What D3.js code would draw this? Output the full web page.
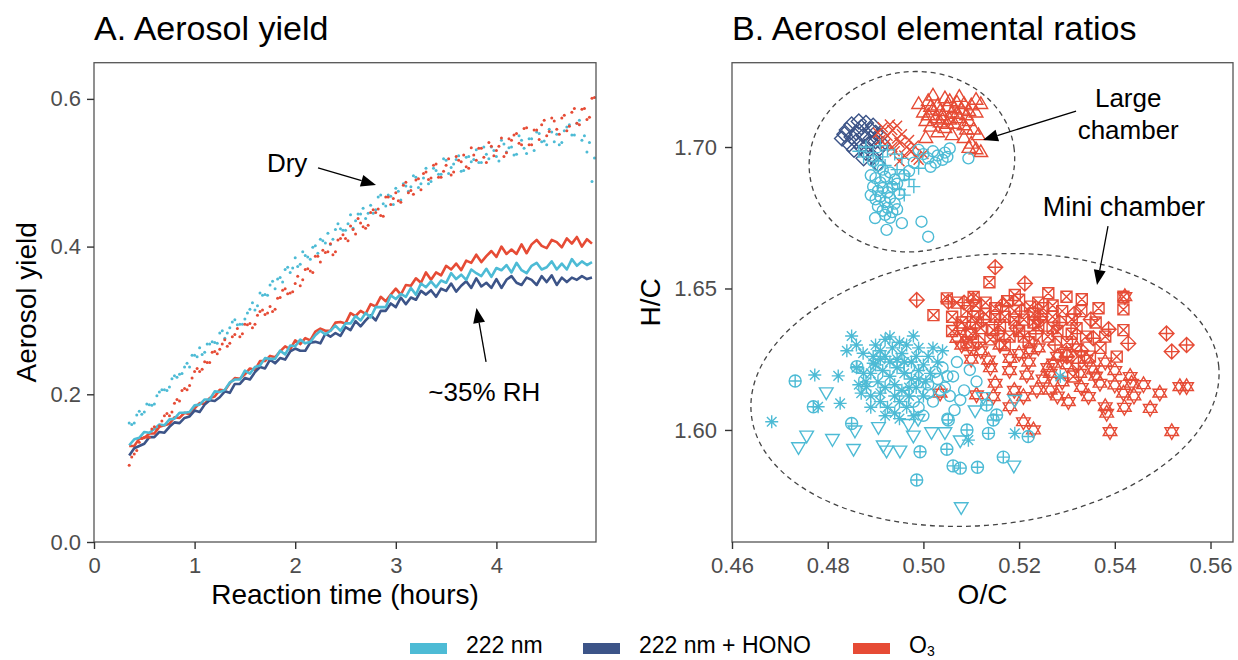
<!DOCTYPE html>
<html>
<head>
<meta charset="utf-8">
<script src="https://cdn.jsdelivr.net/npm/d3@7"></script>
<style>
  body { margin: 0; background: #fff; }
  svg text { font-family: "Liberation Sans", Arial, sans-serif; }
</style>
</head>
<body>
<svg id="chart" width="1238" height="660"></svg>
<script>
// ---- Panel A data: reaction time (hours) and aerosol yield ----
const times = [
  0.35,0.40,0.45,0.50,0.55,0.60,0.65,0.70,0.75,0.80,
  0.85,0.90,0.95,1.00,1.05,1.10,1.15,1.20,1.25,1.30,
  1.35,1.40,1.45,1.50,1.55,1.60,1.65,1.70,1.75,1.80,
  1.85,1.90,1.95,2.00,2.05,2.10,2.15,2.20,2.25,2.30,
  2.35,2.40,2.45,2.50,2.55,2.60,2.65,2.70,2.75,2.80,
  2.85,2.90,2.95,3.00,3.05,3.10,3.15,3.20,3.25,3.30,
  3.35,3.40,3.45,3.50,3.55,3.60,3.65,3.70,3.75,3.80,
  3.85,3.90,3.95,4.00,4.05,4.10,4.15,4.20,4.25,4.30,
  4.35,4.40,4.45,4.50,4.55,4.60,4.65,4.70,4.75,4.80,
  4.85,4.90,4.95
];
const timesMid = [
  0.375,0.425,0.475,0.525,0.575,0.625,0.675,0.725,0.775,0.825,
  0.875,0.925,0.975,1.025,1.075,1.125,1.175,1.225,1.275,1.325,
  1.375,1.425,1.475,1.525,1.575,1.625,1.675,1.725,1.775,1.825,
  1.875,1.925,1.975,2.025,2.075,2.125,2.175,2.225,2.275,2.325,
  2.375,2.425,2.475,2.525,2.575,2.625,2.675,2.725,2.775,2.825,
  2.875,2.925,2.975,3.025,3.075,3.125,3.175,3.225,3.275,3.325,
  3.375,3.425,3.475,3.525,3.575,3.625,3.675,3.725,3.775,3.825,
  3.875,3.925,3.975,4.025,4.075,4.125,4.175,4.225,4.275,4.325,
  4.375,4.425,4.475,4.525,4.575,4.625,4.675,4.725,4.775,4.825,
  4.875,4.925,4.975
];
// dry experiments (dots), sampled on times and timesMid
const dry222 = [
  .161,.161,.177,.176,.186,.187,.203,.206,.210,.225,
  .227,.237,.237,.253,.263,.257,.268,.270,.283,.276,
  .290,.301,.295,.302,.315,.314,.337,.335,.348,.343,
  .358,.369,.365,.385,.376,.388,.383,.401,.410,.405,
  .403,.423,.424,.422,.443,.435,.444,.438,.456,.450,
  .470,.455,.468,.479,.463,.482,.481,.494,.485,.506,
  .488,.503,.498,.517,.507,.518,.502,.521,.515,.531,
  .514,.525,.535,.522,.544,.528,.535,.525,.544,.526,
  .546,.555,.542,.538,.555,.552,.541,.562,.551,.567,
  .544,.528,.488
];
const dry222Mid = [
  .159,.172,.173,.187,.185,.198,.206,.205,.221,.223,
  .228,.242,.253,.251,.254,.268,.271,.269,.286,.283,
  .298,.294,.295,.310,.324,.320,.334,.334,.353,.356,
  .352,.372,.371,.373,.393,.386,.399,.391,.408,.418,
  .410,.431,.422,.431,.425,.444,.452,.445,.445,.467,
  .458,.470,.457,.475,.485,.475,.496,.480,.493,.485,
  .506,.498,.519,.499,.512,.523,.503,.522,.518,.514,
  .535,.519,.530,.516,.539,.534,.524,.550,.533,.546,
  .530,.553,.543,.559,.542,.538,.557,.565,.551,.571,
  .550,.541,.520
];
const dryO3 = [
  .104,.119,.135,.142,.142,.156,.157,.171,.171,.188,
  .191,.208,.212,.231,.231,.244,.243,.258,.261,.274,
  .269,.281,.278,.295,.296,.295,.312,.308,.319,.315,
  .331,.343,.337,.350,.347,.369,.367,.387,.379,.392,
  .404,.393,.411,.411,.428,.417,.432,.425,.446,.446,
  .442,.467,.457,.473,.460,.487,.476,.490,.477,.501,
  .493,.512,.494,.510,.497,.522,.515,.508,.534,.517,
  .533,.514,.536,.530,.547,.527,.544,.553,.538,.561,
  .538,.558,.565,.550,.574,.559,.574,.557,.582,.567,
  .586,.572,.601
];
const dryO3Mid = [
  .115,.124,.140,.142,.153,.152,.164,.174,.176,.193,
  .205,.206,.222,.235,.234,.243,.257,.255,.268,.265,
  .278,.289,.282,.294,.290,.307,.314,.310,.312,.330,
  .341,.336,.339,.360,.355,.370,.365,.387,.395,.393,
  .389,.409,.416,.408,.423,.438,.427,.429,.450,.451,
  .441,.467,.465,.462,.483,.473,.471,.492,.499,.491,
  .510,.494,.502,.519,.501,.517,.524,.506,.524,.533,
  .521,.541,.523,.536,.522,.546,.551,.540,.560,.538,
  .558,.545,.571,.556,.570,.552,.578,.563,.587,.565,
  .587,.575,.602
];
// ~35% RH experiments (lines)
const rh222 = [
  .131,.139,.141,.149,.148,.153,.159,.158,.166,.167,
  .175,.175,.176,.185,.186,.193,.193,.204,.203,.206,
  .216,.220,.220,.232,.228,.237,.239,.249,.248,.248,
  .259,.254,.266,.265,.274,.269,.271,.280,.286,.281,
  .286,.293,.286,.296,.296,.306,.300,.310,.304,.318,
  .318,.318,.334,.329,.336,.332,.344,.335,.350,.345,
  .353,.345,.354,.351,.364,.356,.362,.355,.369,.364,
  .360,.370,.359,.371,.368,.375,.365,.378,.368,.364,
  .374,.378,.369,.372,.380,.369,.377,.369,.383,.374,
  .380,.375,.379
];
const rhHONO = [
  .117,.127,.130,.133,.142,.142,.149,.148,.156,.162,
  .161,.168,.170,.178,.176,.186,.192,.191,.196,.204,
  .202,.214,.214,.222,.220,.230,.237,.235,.247,.242,
  .249,.247,.258,.262,.259,.259,.270,.271,.269,.282,
  .278,.283,.279,.291,.287,.299,.292,.300,.307,.300,
  .313,.313,.323,.318,.331,.322,.331,.328,.340,.335,
  .341,.332,.343,.340,.350,.339,.347,.353,.344,.357,
  .346,.351,.344,.356,.344,.355,.360,.351,.348,.358,
  .355,.348,.360,.352,.361,.348,.358,.352,.358,.355,
  .360,.356,.358
];
const rhO3 = [
  .130,.130,.140,.141,.147,.147,.156,.158,.160,.169,
  .168,.175,.173,.181,.188,.187,.195,.197,.206,.205,
  .215,.222,.221,.227,.235,.233,.245,.245,.252,.250,
  .258,.265,.261,.273,.268,.276,.273,.285,.289,.286,
  .286,.297,.298,.296,.310,.306,.313,.309,.322,.319,
  .332,.326,.335,.343,.335,.348,.347,.357,.351,.365,
  .355,.365,.361,.374,.369,.377,.368,.381,.378,.389,
  .379,.387,.394,.386,.400,.390,.396,.390,.403,.391,
  .403,.409,.401,.398,.409,.406,.399,.411,.404,.413,
  .400,.410,.404
];
const xTicksA = [0, 1, 2, 3, 4];
const yTicksA = [0, 0.2, 0.4, 0.6];

// ---- Panel B data: [O/C, H/C] ----
// large chamber
const largeHONO = [
  [0.4830,1.7030],[0.4840,1.7060],[0.4850,1.7080],[0.4860,1.7050],[0.4870,1.7070],[0.4880,1.7085],
  [0.4890,1.7060],[0.4845,1.7010],[0.4860,1.7020],[0.4875,1.7040],[0.4890,1.7030],[0.4900,1.7050],
  [0.4855,1.6990],[0.4870,1.7000],[0.4885,1.7010],[0.4900,1.7020],[0.4910,1.7040],[0.4880,1.6980],
  [0.4895,1.6965],[0.4905,1.6990],[0.4835,1.7045],[0.4865,1.7090],[0.4895,1.7075],[0.4915,1.7010],
  [0.4875,1.6960],[0.4850,1.7035],[0.4905,1.6940]
];
const largeO3cross = [
  [0.4905,1.7050],[0.4915,1.7070],[0.4925,1.7040],[0.4935,1.7060],[0.4945,1.7030],[0.4955,1.7045],
  [0.4920,1.7010],[0.4935,1.7000],[0.4950,1.7015],[0.4965,1.7000],[0.4975,1.6985],[0.4960,1.6970],
  [0.4985,1.6965],[0.4910,1.7025],[0.4940,1.6985],[0.4970,1.7025],[0.4930,1.7080],[0.4990,1.6955],
  [0.4950,1.6950],[0.5000,1.6975],[0.4945,1.7075],[0.4980,1.7005]
];
const largeO3tri = [
  [0.4990,1.7150],[0.5000,1.7120],[0.5010,1.7160],[0.5020,1.7130],[0.5030,1.7145],[0.5040,1.7110],
  [0.5050,1.7140],[0.5060,1.7120],[0.5070,1.7155],[0.5080,1.7130],[0.5090,1.7110],[0.5100,1.7145],
  [0.5110,1.7165],[0.5005,1.7090],[0.5015,1.7070],[0.5025,1.7100],[0.5035,1.7085],[0.5045,1.7065],
  [0.5055,1.7095],[0.5065,1.7080],[0.5075,1.7100],[0.5085,1.7075],[0.5095,1.7090],[0.5105,1.7060],
  [0.5045,1.7170],[0.5075,1.7175],[0.5060,1.7040],[0.5085,1.7030],[0.5100,1.7010],[0.5110,1.6990],
  [0.5120,1.6980],[0.5095,1.6995],[0.5030,1.7050],[0.5020,1.7180],[0.5115,1.7040],[0.5005,1.7030],
  [0.5120,1.7150],[0.5015,1.7140],[0.5035,1.7125],[0.5055,1.7160],[0.5065,1.7135],[0.5085,1.7150],
  [0.5095,1.7125],[0.5040,1.7095],[0.5070,1.7115],[0.5090,1.7060],[0.5050,1.7080],[0.5110,1.7120],
  [0.5010,1.7110]
];
const large222circle = [
  [0.4895,1.6950],[0.4905,1.6935],[0.4915,1.6920],[0.4890,1.6900],[0.4900,1.6890],[0.4910,1.6875],
  [0.4920,1.6895],[0.4930,1.6910],[0.4940,1.6885],[0.4895,1.6860],[0.4905,1.6845],[0.4915,1.6855],
  [0.4925,1.6840],[0.4935,1.6860],[0.4945,1.6870],[0.4890,1.6830],[0.4900,1.6815],[0.4910,1.6825],
  [0.4920,1.6805],[0.4930,1.6820],[0.4940,1.6800],[0.4950,1.6835],[0.4905,1.6790],[0.4915,1.6775],
  [0.4925,1.6785],[0.4935,1.6770],[0.4945,1.6780],[0.4920,1.6760],[0.4930,1.6750],[0.4899,1.6749],
  [0.4923,1.6707],[0.4955,1.6731],[0.4996,1.6736],[0.5010,1.6683],[0.4990,1.6990],[0.5000,1.6975],
  [0.5010,1.6960],[0.5020,1.6985],[0.5030,1.6970],[0.5040,1.6955],[0.5045,1.6980],[0.5055,1.6995],
  [0.5025,1.6945],[0.5015,1.6930],[0.5050,1.6965],[0.5094,1.6960],[0.4960,1.6900],[0.4970,1.6915],
  [0.4980,1.6945]
];
const large222plus = [
  [0.4865,1.6985],[0.4880,1.7000],[0.4895,1.6980],[0.4910,1.7005],[0.4925,1.6990],[0.4940,1.6975],
  [0.4955,1.6960],[0.4875,1.6965],[0.4900,1.6950],[0.4920,1.6935],[0.4945,1.6920],[0.4960,1.6905],
  [0.4970,1.6885],[0.4935,1.6870],[0.4950,1.6850],[0.4980,1.6860],[0.4990,1.6925],[0.4915,1.6965],
  [0.4960,1.6830]
];
// mini chamber
const mini222aster = [
  [0.4900,1.6300],[0.4910,1.6280],[0.4920,1.6260],[0.4935,1.6290],[0.4945,1.6250],[0.4955,1.6270],
  [0.4965,1.6300],[0.4975,1.6240],[0.4985,1.6260],[0.4900,1.6230],[0.4915,1.6210],[0.4930,1.6190],
  [0.4945,1.6220],[0.4960,1.6200],[0.4975,1.6180],[0.4990,1.6210],[0.5000,1.6230],[0.4905,1.6170],
  [0.4920,1.6150],[0.4940,1.6160],[0.4955,1.6140],[0.4970,1.6120],[0.4985,1.6150],[0.5005,1.6170],
  [0.4890,1.6120],[0.4910,1.6100],[0.4925,1.6080],[0.4950,1.6100],[0.4870,1.6130],[0.4880,1.6170],
  [0.4895,1.6260],[0.4875,1.6200],[0.5010,1.6260],[0.5020,1.6290],[0.5015,1.6200],[0.4965,1.6080],
  [0.4940,1.6060],[0.4980,1.6050],[0.4850,1.6332],[0.4874,1.6271],[0.4895,1.6236],[0.4930,1.6329],
  [0.4979,1.6332],[0.4881,1.6153],[0.4683,1.6029],[0.4773,1.6194],[0.4822,1.6191],[0.4826,1.6094],
  [0.4780,1.6082],[0.5094,1.5964],[0.5191,1.5988],[0.5286,1.6189],[0.4860,1.6300],[0.4865,1.6160],
  [0.4920,1.6320],[0.4950,1.6310],[0.4990,1.6290],[0.4930,1.6240],[0.4960,1.6240],[0.4990,1.6180],
  [0.4910,1.6130],[0.4940,1.6120],[0.4970,1.6150],[0.5000,1.6120],[0.4920,1.6050],[0.4950,1.6040],
  [0.4890,1.6080],[0.4890,1.6200],[0.4910,1.6250],[0.5030,1.6240],[0.5040,1.6280],[0.4860,1.6220],
  [0.4840,1.6280]
];
const mini222cplus = [
  [0.4732,1.6173],[0.4770,1.6082],[0.4850,1.6023],[0.4993,1.5923],[0.5049,1.5932],[0.5062,1.5873],
  [0.5077,1.5865],[0.5113,1.5868],[0.4986,1.5823],[0.5167,1.5904],[0.5136,1.5988],[0.5146,1.6035],
  [0.5153,1.6053],[0.5219,1.5977],[0.5132,1.6088],[0.4861,1.6224],[0.5052,1.6035],[0.5091,1.6000]
];
const mini222tri = [
  [0.4739,1.5941],[0.4756,1.5982],[0.4797,1.6135],[0.4810,1.5970],[0.4854,1.5935],[0.4857,1.6000],
  [0.4906,1.6012],[0.4923,1.5929],[0.4951,1.5929],[0.4979,1.5982],[0.5017,1.5994],[0.5045,1.5994],
  [0.5077,1.5965],[0.5108,1.6071],[0.5125,1.6118],[0.5191,1.6108],[0.5189,1.5876],[0.5079,1.5729],
  [0.4989,1.6041],[0.4916,1.5947],[0.4969,1.6023]
];
const mini222circle = [
  [0.5030,1.6180],[0.5045,1.6150],[0.5062,1.6189],[0.5097,1.6212],[0.5111,1.6171],[0.5077,1.6106],
  [0.5035,1.6141],[0.5055,1.6120],[0.5020,1.6100],[0.5085,1.6140],[0.5040,1.6220],[0.5070,1.6240],
  [0.5010,1.6130],[0.5065,1.6070],[0.5050,1.6040],[0.4990,1.6080],[0.5000,1.6050],[0.5010,1.6160],
  [0.5025,1.6205],[0.4970,1.6220],[0.4980,1.6100],[0.5050,1.6190]
];
const miniO3square = [
  [0.5021,1.6406],[0.5049,1.6465],[0.5138,1.6522],[0.5191,1.6477],[0.5261,1.6483],[0.5331,1.6462],
  [0.5366,1.6430],[0.5418,1.6471],[0.5418,1.6426],[0.5418,1.6353],[0.5404,1.6259],[0.5299,1.6471],
  [0.5223,1.6436],[0.5104,1.6400],[0.5146,1.6353],[0.5313,1.6189],[0.5348,1.6259],
  [0.5090,1.6420],[0.5110,1.6440],[0.5130,1.6410],[0.5150,1.6430],[0.5170,1.6400],[0.5190,1.6420],
  [0.5210,1.6390],[0.5230,1.6410],[0.5250,1.6430],[0.5270,1.6400],[0.5290,1.6420],[0.5310,1.6390],
  [0.5080,1.6380],[0.5120,1.6360],[0.5160,1.6370],[0.5200,1.6350],[0.5240,1.6370],[0.5280,1.6350],
  [0.5320,1.6360],[0.5100,1.6340],[0.5140,1.6320],[0.5180,1.6330],[0.5220,1.6310],[0.5260,1.6330],
  [0.5300,1.6310],[0.5340,1.6330],[0.5060,1.6400],[0.5105,1.6470],[0.5175,1.6455],[0.5240,1.6450],
  [0.5070,1.6450],[0.5130,1.6450],[0.5200,1.6460],[0.5270,1.6440],[0.5330,1.6420],[0.5360,1.6380],
  [0.5380,1.6330],[0.5370,1.6290],[0.5110,1.6380],[0.5150,1.6400],[0.5190,1.6390],[0.5230,1.6380],
  [0.5270,1.6360],[0.5310,1.6340],[0.5060,1.6350],[0.5090,1.6310],[0.5170,1.6300],[0.5210,1.6330]
];
const miniO3diamond = [
  [0.4986,1.6459],[0.5150,1.6575],[0.5212,1.6518],[0.5387,1.6356],[0.5428,1.6306],[0.5508,1.6341],
  [0.5550,1.6300],[0.5519,1.6277],[0.5052,1.6453],[0.5355,1.6324],[0.5324,1.6236],[0.5104,1.6459],
  [0.5244,1.6389],[0.5085,1.6450],[0.5125,1.6390],[0.5165,1.6440],[0.5205,1.6420],[0.5245,1.6400],
  [0.5285,1.6380],[0.5315,1.6410],[0.5195,1.6360],[0.5155,1.6340],[0.5235,1.6340],[0.5275,1.6300],
  [0.5115,1.6310],[0.5350,1.6390],[0.5330,1.6280],[0.5300,1.6260]
];
const miniO3star = [
  [0.5070,1.6324],[0.5097,1.6294],[0.5136,1.6247],[0.5150,1.6165],[0.5181,1.6082],[0.5209,1.6029],
  [0.5230,1.6000],[0.5181,1.6253],[0.5223,1.6283],[0.5216,1.6194],[0.5237,1.6141],[0.5265,1.6141],
  [0.5303,1.6100],[0.5345,1.6118],[0.5380,1.6082],[0.5390,1.5994],[0.5383,1.6059],[0.5418,1.6130],
  [0.5435,1.6165],[0.5474,1.6076],[0.5494,1.6130],[0.5519,1.5994],[0.5536,1.6153],[0.5550,1.6153],
  [0.5421,1.6471],[0.5299,1.6271],[0.5272,1.6236],[0.5327,1.6200],[0.5209,1.6118],[0.5035,1.6130],
  [0.5111,1.6124],[0.5146,1.6118],[0.5355,1.6212],[0.5369,1.6165],[0.5432,1.6189],[0.5400,1.6159],
  [0.5265,1.6200],[0.5097,1.6342],[0.5077,1.6365],
  [0.5080,1.6300],[0.5120,1.6280],[0.5160,1.6300],[0.5200,1.6270],[0.5240,1.6290],[0.5280,1.6260],
  [0.5320,1.6290],[0.5100,1.6250],[0.5140,1.6220],[0.5180,1.6210],[0.5220,1.6240],[0.5260,1.6220],
  [0.5300,1.6230],[0.5340,1.6250],[0.5380,1.6240],[0.5360,1.6190],[0.5400,1.6210],[0.5330,1.6150],
  [0.5290,1.6170],[0.5250,1.6180],[0.5440,1.6120],[0.5460,1.6160],[0.5420,1.6080],[0.5280,1.6120],
  [0.5190,1.6140]
];
const xTicksB = [0.46, 0.48, 0.50, 0.52, 0.54, 0.56];
const yTicksB = [1.60, 1.65, 1.70];

const legendLabels = ["222 nm", "222 nm + HONO", "O3"];
const colors = { "222 nm": "#4DBBD5", "222 nm + HONO": "#3C5488", "O3": "#E64B35" };

// ---------------------------------------------------------------
const svg = d3.select("#chart");

function styleAxis(g) {
  g.select(".domain").remove();
  g.selectAll(".tick line").attr("stroke", "#333").attr("stroke-width", 1.4);
  g.selectAll(".tick text")
    .attr("fill", "#4d4d4d")
    .style("font-size", "22px")
    .style("font-family", "'Liberation Sans', Arial, sans-serif");
}

function arrow(g, x1, y1, x2, y2) {
  const ang = Math.atan2(y2 - y1, x2 - x1), L = 15, W = 6;
  const bx = x2 - L * Math.cos(ang), by = y2 - L * Math.sin(ang);
  g.append("line")
    .attr("x1", x1).attr("y1", y1).attr("x2", bx).attr("y2", by)
    .attr("stroke", "#000").attr("stroke-width", 1.3);
  const px = -Math.sin(ang) * W, py = Math.cos(ang) * W;
  g.append("path")
    .attr("d", `M${x2},${y2}L${bx + px},${by + py}L${bx - px},${by - py}Z`)
    .attr("fill", "#000");
}

// ---------------- Panel A ----------------
const A = { left: 94, right: 596, top: 62.7, bottom: 542 };
const xA = d3.scaleLinear().domain([0, 4.99]).range([A.left, A.right]);
const yA = d3.scaleLinear().domain([0, 0.649]).range([A.bottom, A.top]);

svg.append("clipPath").attr("id", "clipA").append("rect")
  .attr("x", A.left).attr("y", A.top).attr("width", A.right - A.left).attr("height", A.bottom - A.top);

const gA = svg.append("g").attr("clip-path", "url(#clipA)");
const line = d3.line().x((d, i) => xA(times[i])).y(d => yA(d));

[[rhO3, colors["O3"]], [rhHONO, colors["222 nm + HONO"]], [rh222, colors["222 nm"]]].forEach(([s, c]) => {
  gA.append("path").datum(s).attr("d", line)
    .attr("fill", "none").attr("stroke", c).attr("stroke-width", 2.6).attr("stroke-linejoin", "round");
});
[[dry222, times, colors["222 nm"]], [dry222Mid, timesMid, colors["222 nm"]],
 [dryO3, times, colors["O3"]], [dryO3Mid, timesMid, colors["O3"]]].forEach(([s, ts, c]) => {
  gA.append("g").selectAll("circle").data(s).join("circle")
    .attr("cx", (d, i) => xA(ts[i])).attr("cy", d => yA(d)).attr("r", 1.5).attr("fill", c);
});

svg.append("rect").attr("x", A.left).attr("y", A.top)
  .attr("width", A.right - A.left).attr("height", A.bottom - A.top)
  .attr("fill", "none").attr("stroke", "#555").attr("stroke-width", 1.3);

svg.append("g").attr("transform", `translate(0,${A.bottom})`)
  .call(d3.axisBottom(xA).tickValues(xTicksA).tickFormat(d3.format("d")).tickSize(7).tickPadding(8))
  .call(styleAxis);
svg.append("g").attr("transform", `translate(${A.left},0)`)
  .call(d3.axisLeft(yA).tickValues(yTicksA).tickFormat(d3.format(".1f")).tickSize(7).tickPadding(6))
  .call(styleAxis);

svg.append("text").attr("x", A.left).attr("y", 40).attr("font-size", 34).text("A. Aerosol yield");
svg.append("text").attr("x", (A.left + A.right) / 2).attr("y", 604).attr("text-anchor", "middle")
  .attr("font-size", 28).text("Reaction time (hours)");
svg.append("text").attr("transform", `translate(36,${(A.top + A.bottom) / 2}) rotate(-90)`)
  .attr("text-anchor", "middle").attr("font-size", 28).text("Aerosol yield");

// annotations A
svg.append("text").attr("x", xA(1.92)).attr("y", yA(0.513)).attr("dy", "0.35em")
  .attr("text-anchor", "middle").attr("font-size", 26).text("Dry");
arrow(svg, xA(2.227), yA(0.5066), xA(2.803), yA(0.4835));
svg.append("text").attr("x", xA(3.88)).attr("y", yA(0.203)).attr("dy", "0.35em")
  .attr("text-anchor", "middle").attr("font-size", 26).text("~35% RH");
arrow(svg, xA(3.897), yA(0.2438), xA(3.802), yA(0.3169));

// ---------------- Panel B ----------------
const B = { left: 732, right: 1233, top: 62.7, bottom: 542 };
const xB = d3.scaleLinear().domain([0.46, 0.5647]).range([B.left, B.right]);
const yB = d3.scaleLinear().domain([1.5604, 1.7298]).range([B.bottom, B.top]);

svg.append("clipPath").attr("id", "clipB").append("rect")
  .attr("x", B.left).attr("y", B.top).attr("width", B.right - B.left).attr("height", B.bottom - B.top);
const gB = svg.append("g").attr("clip-path", "url(#clipB)");

const glyph = {
  circle: "M5.5,0A5.5,5.5 0 1,1 -5.5,0A5.5,5.5 0 1,1 5.5,0Z",
  triUp: "M0,-7.8L6.8,3.9L-6.8,3.9Z",
  triDown: "M0,7.8L6.8,-3.9L-6.8,-3.9Z",
  plus: "M-6.5,0H6.5M0,-6.5V6.5",
  cross: "M-5,-5L5,5M-5,5L5,-5",
  diamond: "M0,-7.5L7.5,0L0,7.5L-7.5,0Z",
  asterisk: "M-6.5,0H6.5M0,-6.5V6.5M-4.8,-4.8L4.8,4.8M-4.8,4.8L4.8,-4.8",
  circlePlus: "M6,0A6,6 0 1,1 -6,0A6,6 0 1,1 6,0ZM-6,0H6M0,-6V6",
  star: "M0,-7.8L6.8,3.9L-6.8,3.9ZM0,7.8L6.8,-3.9L-6.8,-3.9Z",
  squareCross: "M-5.5,-5.5H5.5V5.5H-5.5ZM-5.5,-5.5L5.5,5.5M-5.5,5.5L5.5,-5.5",
  diamondPlus: "M0,-7.5L7.5,0L0,7.5L-7.5,0ZM0,-7.5V7.5M-7.5,0H7.5"
};

const layers = [
  [miniO3square, "squareCross", "O3"],
  [miniO3diamond, "diamondPlus", "O3"],
  [miniO3star, "star", "O3"],
  [mini222tri, "triDown", "222 nm"],
  [mini222cplus, "circlePlus", "222 nm"],
  [mini222circle, "circle", "222 nm"],
  [mini222aster, "asterisk", "222 nm"],
  [largeO3tri, "triUp", "O3"],
  [largeHONO, "diamond", "222 nm + HONO"],
  [largeO3cross, "cross", "O3"],
  [large222circle, "circle", "222 nm"],
  [large222plus, "plus", "222 nm"]
];
layers.forEach(([pts, shape, key]) => {
  gB.append("g").selectAll("path").data(pts).join("path")
    .attr("transform", d => `translate(${xB(d[0])},${yB(d[1])})`)
    .attr("d", glyph[shape])
    .attr("fill", "none").attr("stroke", colors[key]).attr("stroke-width", 1.4);
});

// dashed ellipses round the two chamber groups
const ellipses = [
  { oc: 0.4976, hc: 1.6948, rOC: 0.02153, rHC: 0.0318, tilt: -8 },
  { oc: 0.51287, hc: 1.61413, rOC: 0.0491, rHC: 0.0477, tilt: -6 }
];
ellipses.forEach(e => {
  svg.append("ellipse")
    .attr("transform", `translate(${xB(e.oc)},${yB(e.hc)}) rotate(${e.tilt})`)
    .attr("rx", xB(e.oc + e.rOC) - xB(e.oc)).attr("ry", yB(e.hc - e.rHC) - yB(e.hc))
    .attr("fill", "none").attr("stroke", "#444").attr("stroke-width", 1.3).attr("stroke-dasharray", "5,4");
});

svg.append("rect").attr("x", B.left).attr("y", B.top)
  .attr("width", B.right - B.left).attr("height", B.bottom - B.top)
  .attr("fill", "none").attr("stroke", "#555").attr("stroke-width", 1.3);

svg.append("g").attr("transform", `translate(0,${B.bottom})`)
  .call(d3.axisBottom(xB).tickValues(xTicksB).tickFormat(d3.format(".2f")).tickSize(7).tickPadding(8))
  .call(styleAxis);
svg.append("g").attr("transform", `translate(${B.left},0)`)
  .call(d3.axisLeft(yB).tickValues(yTicksB).tickFormat(d3.format(".2f")).tickSize(7).tickPadding(8))
  .call(styleAxis);

svg.append("text").attr("x", B.left).attr("y", 40).attr("font-size", 34).text("B. Aerosol elemental ratios");
svg.append("text").attr("x", (B.left + B.right) / 2).attr("y", 604).attr("text-anchor", "middle")
  .attr("font-size", 28).text("O/C");
svg.append("text").attr("transform", `translate(660,${(B.top + B.bottom) / 2}) rotate(-90)`)
  .attr("text-anchor", "middle").attr("font-size", 28).text("H/C");

// annotations B
const lc = svg.append("text").attr("text-anchor", "middle").attr("font-size", 26);
lc.append("tspan").attr("x", xB(0.5428)).attr("y", 107).text("Large");
lc.append("tspan").attr("x", xB(0.5428)).attr("y", 139).text("chamber");
arrow(svg, xB(0.5319), yB(1.7127), xB(0.51245), yB(1.70247));
svg.append("text").attr("x", xB(0.5419)).attr("y", 216).attr("text-anchor", "middle")
  .attr("font-size", 27).text("Mini chamber");
arrow(svg, xB(0.53858), yB(1.67208), xB(0.53628), yB(1.65124));

// ---------------- Legend ----------------
const legendX = [410, 583, 853];
const lg = svg.append("g");
legendLabels.forEach((lab, i) => {
  lg.append("rect").attr("x", legendX[i]).attr("y", 643).attr("width", 37).attr("height", 11)
    .attr("fill", colors[lab]);
  const t = lg.append("text").attr("x", legendX[i] + 56).attr("y", 653).attr("font-size", 23);
  if (lab === "O3") {
    t.append("tspan").text("O");
    t.append("tspan").attr("dy", 3).attr("font-size", 14).text("3");
  } else {
    t.text(lab);
  }
});
</script>
</body>
</html>
